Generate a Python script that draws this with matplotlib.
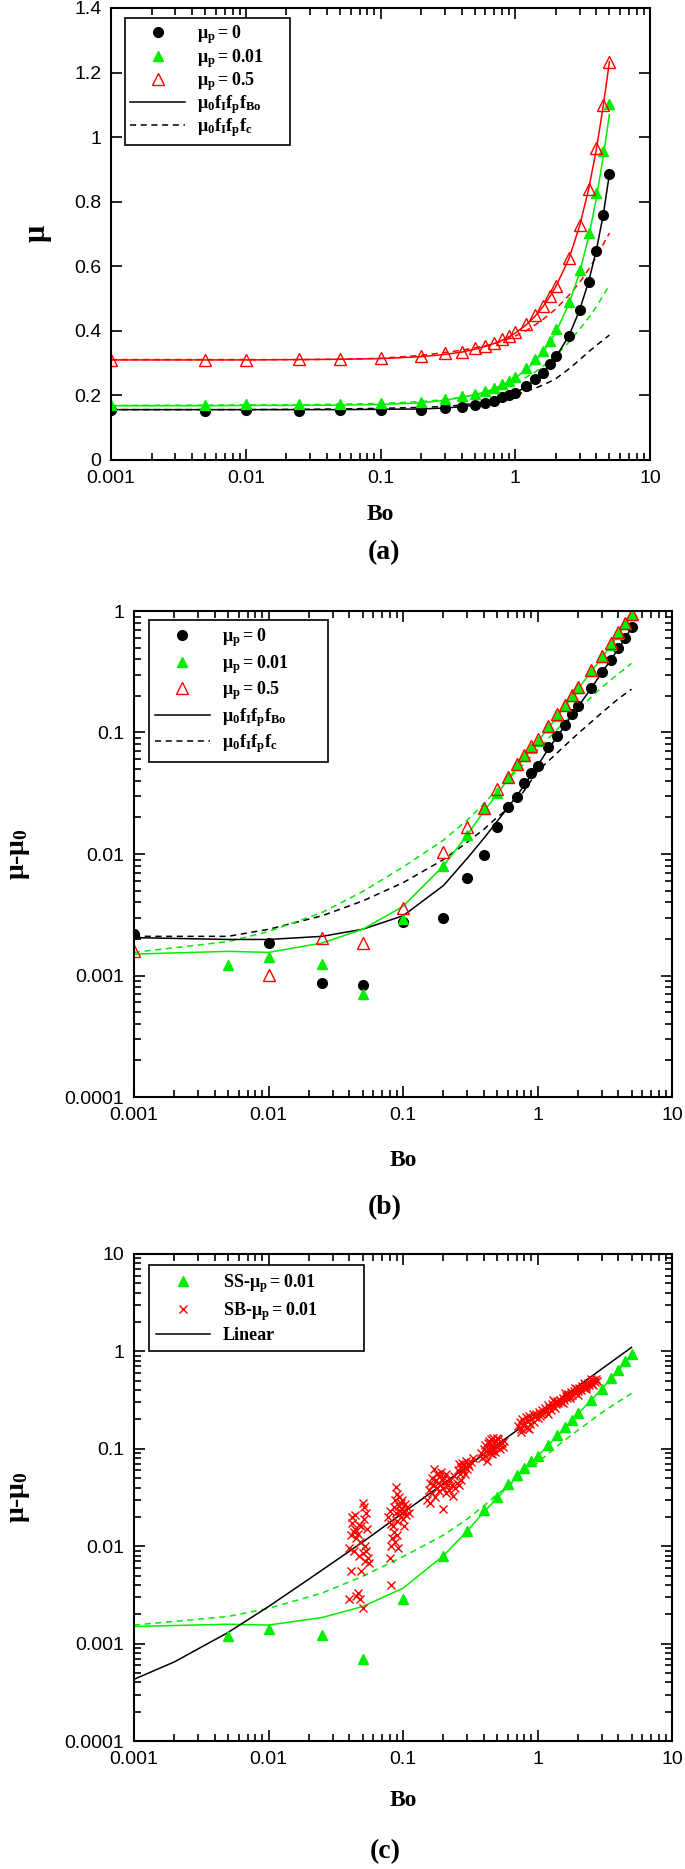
import numpy as np
import matplotlib.pyplot as plt
from matplotlib import ticker
from matplotlib.lines import Line2D

plt.rcParams['font.family'] = ['Liberation Sans', 'DejaVu Sans']
plt.rcParams['mathtext.fontset'] = 'custom'
plt.rcParams['mathtext.rm'] = 'Liberation Serif:bold'
plt.rcParams['mathtext.it'] = 'Liberation Serif:bold'
plt.rcParams['mathtext.bf'] = 'Liberation Serif:bold'
plt.rcParams['mathtext.default'] = 'rm'

# Bond number grid shared by the simulations
bo = [0.001, 0.005, 0.01, 0.025, 0.05, 0.1, 0.2, 0.3, 0.4, 0.5, 0.6, 0.7, 0.8, 0.9,
      1.0, 1.2, 1.4, 1.6, 1.8, 2.0, 2.5, 3.0, 3.5, 4.0, 4.5, 5.0]

# (a) friction coefficient
mu_p0 = [0.156, 0.153, 0.155, 0.153, 0.155, 0.156, 0.156, 0.160, 0.164, 0.171, 0.178, 0.184, 0.194,
         0.200, 0.208, 0.230, 0.250, 0.271, 0.296, 0.321, 0.385, 0.466, 0.551, 0.648, 0.759, 0.886]
mu_p001 = [0.169, 0.171, 0.172, 0.172, 0.172, 0.175, 0.180, 0.188, 0.197, 0.205, 0.213, 0.224, 0.236,
           0.244, 0.258, 0.285, 0.313, 0.338, 0.368, 0.405, 0.490, 0.589, 0.703, 0.827, 0.958, 1.104]
mu_p05 = [0.311, 0.310, 0.311, 0.312, 0.312, 0.315, 0.322, 0.330, 0.335, 0.346, 0.354, 0.363, 0.374,
          0.385, 0.396, 0.420, 0.448, 0.476, 0.509, 0.540, 0.626, 0.728, 0.838, 0.965, 1.100, 1.234]
fbo_p0 = [0.156, 0.156, 0.156, 0.156, 0.156, 0.157, 0.158, 0.161, 0.165, 0.170, 0.176, 0.183, 0.191,
          0.199, 0.207, 0.227, 0.248, 0.270, 0.294, 0.319, 0.384, 0.464, 0.552, 0.650, 0.760, 0.886]
fbo_p001 = [0.168, 0.168, 0.169, 0.169, 0.170, 0.172, 0.177, 0.185, 0.194, 0.202, 0.211, 0.221, 0.232,
            0.243, 0.254, 0.279, 0.306, 0.334, 0.364, 0.396, 0.483, 0.580, 0.690, 0.810, 0.940, 1.070]
fbo_p05 = [0.310, 0.310, 0.310, 0.311, 0.312, 0.314, 0.320, 0.327, 0.334, 0.343, 0.352, 0.361, 0.371,
           0.382, 0.393, 0.418, 0.445, 0.474, 0.505, 0.537, 0.623, 0.724, 0.838, 0.962, 1.097, 1.234]
fc_p0 = [0.156, 0.156, 0.156, 0.157, 0.158, 0.160, 0.163, 0.166, 0.170, 0.176, 0.180, 0.186, 0.191,
         0.196, 0.201, 0.212, 0.222, 0.232, 0.242, 0.252, 0.282, 0.310, 0.335, 0.355, 0.372, 0.387]
fc_p001 = [0.169, 0.170, 0.1705, 0.171, 0.173, 0.175, 0.181, 0.187, 0.194, 0.202, 0.208, 0.215, 0.222,
           0.230, 0.240, 0.256, 0.272, 0.290, 0.307, 0.323, 0.365, 0.405, 0.440, 0.475, 0.510, 0.542]
fc_p05 = [0.311, 0.311, 0.311, 0.311, 0.312, 0.315, 0.324, 0.333, 0.340, 0.347, 0.354, 0.361, 0.368,
          0.376, 0.384, 0.400, 0.418, 0.435, 0.452, 0.468, 0.510, 0.550, 0.590, 0.630, 0.668, 0.703]

# (b) mu - mu0 (nan where no point is drawn)
nan = np.nan
d_p0 = [0.0022, nan, 0.00186, 0.00086, 0.00083, 0.00277, 0.0030, 0.00634, 0.0098, 0.0166, 0.0243,
        0.0297, 0.0385, 0.0465, 0.0531, 0.076, 0.093, 0.115, 0.143, 0.165, 0.231, 0.313, 0.397,
        0.492, 0.603, 0.738]
d_p001 = [nan, 0.00121, 0.00142, 0.00124, 0.0007, 0.0029, 0.0080, 0.0142, 0.0237, 0.032, 0.0434,
          0.0538, 0.064, 0.0744, 0.085, 0.110, 0.138, 0.167, 0.198, 0.231, 0.318, 0.416, 0.527,
          0.645, 0.79, 0.935]
d_p05 = [0.00159, nan, 0.00101, 0.00204, 0.00186, 0.00357, 0.0103, 0.0166, 0.024, 0.0343, 0.0434,
         0.055, 0.065, 0.077, 0.088, 0.113, 0.141, 0.169, 0.205, 0.238, 0.324, 0.43, 0.545,
         0.667, 0.80, 0.948]
dfbo_p0 = [0.00205, 0.00198, 0.00198, 0.0021, 0.0024, 0.0031, 0.0055, 0.0092, 0.0135, 0.0185, 0.024,
           0.030, 0.037, 0.045, 0.053, 0.073, 0.092, 0.114, 0.140, 0.163, 0.23, 0.31, 0.395, 0.49,
           0.60, 0.73]
dfbo_p001 = [0.0015, 0.00158, 0.00155, 0.00185, 0.0024, 0.0037, 0.0080, 0.0143, 0.0225, 0.031, 0.041,
             0.051, 0.062, 0.073, 0.084, 0.108, 0.135, 0.164, 0.195, 0.228, 0.315, 0.41, 0.52, 0.64,
             0.78, 0.92]
bo_fc = [0.001, 0.005, 0.01, 0.025, 0.05, 0.1, 0.2, 0.3, 0.4, 0.5, 0.7, 1.0, 1.5, 2.0, 3.0, 4.0, 5.0]
dfc_p0 = [0.0021, 0.0021, 0.0024, 0.0031, 0.0041, 0.0058, 0.0090, 0.0125, 0.016, 0.020, 0.027,
          0.048, 0.073, 0.098, 0.145, 0.19, 0.227]
dfc_p001 = [0.00155, 0.0019, 0.0023, 0.0033, 0.0049, 0.0078, 0.0130, 0.019, 0.026, 0.034, 0.048,
            0.072, 0.115, 0.155, 0.235, 0.305, 0.37]

# (c) linear fit and SB scatter
bo_lin = [0.001, 0.002, 0.005, 0.01, 0.02, 0.05, 0.1, 0.2, 0.5, 1.0, 2.0, 5.0]
d_lin = [0.00043, 0.00065, 0.0013, 0.0024, 0.0046, 0.011, 0.022, 0.044, 0.11, 0.22, 0.44, 1.1]
sb_bo = [0.040, 0.041, 0.042, 0.043, 0.044, 0.045, 0.046, 0.047, 0.044, 0.042, 0.041, 0.040, 0.045,
         0.046, 0.048, 0.050, 0.049, 0.050, 0.051, 0.050, 0.053, 0.054, 0.052, 0.053, 0.055, 0.056,
         0.052, 0.047, 0.043, 0.048, 0.051, 0.049,
         0.078, 0.080, 0.082, 0.083, 0.081, 0.080, 0.082, 0.085, 0.087, 0.088, 0.089, 0.090, 0.091,
         0.092, 0.093, 0.094, 0.095, 0.096, 0.097, 0.099, 0.100, 0.102, 0.104, 0.106, 0.108, 0.110,
         0.086, 0.084, 0.090, 0.098, 0.101, 0.087,
         0.150, 0.155, 0.158, 0.160, 0.163, 0.165, 0.168, 0.170, 0.172, 0.175, 0.178, 0.180, 0.182,
         0.185, 0.188, 0.190, 0.192, 0.195, 0.198, 0.200, 0.203, 0.205, 0.208, 0.210, 0.215, 0.220,
         0.225, 0.230, 0.235, 0.240, 0.245, 0.250, 0.255, 0.260, 0.265, 0.270, 0.275, 0.280, 0.285,
         0.290, 0.295, 0.300, 0.305, 0.310, 0.320, 0.330, 0.270, 0.260,
         0.380, 0.390, 0.400, 0.405, 0.410, 0.415, 0.420, 0.425, 0.430, 0.435, 0.440, 0.445, 0.450,
         0.455, 0.460, 0.465, 0.470, 0.475, 0.480, 0.490, 0.500, 0.510, 0.520, 0.530, 0.540, 0.550,
         0.560, 0.440, 0.460, 0.500,
         0.72, 0.74, 0.75, 0.77, 0.78, 0.80, 0.82, 0.83, 0.85, 0.87, 0.88, 0.90, 0.92, 0.94, 0.96,
         0.98, 1.00, 1.02, 1.04, 1.06, 1.08, 0.76, 0.86,
         1.10, 1.13, 1.16, 1.19, 1.22, 1.25, 1.28, 1.31, 1.34, 1.37, 1.40, 1.43, 1.46, 1.50, 1.54,
         1.58, 1.62, 1.66, 1.70, 1.74, 1.78, 1.82, 1.86, 1.90, 1.95, 2.00, 2.05, 2.10, 2.15, 2.20,
         2.25, 2.30, 2.36, 2.42, 2.48, 2.54, 2.60, 2.66, 2.72, 2.78, 1.20, 1.35, 1.55, 1.75, 2.00,
         2.30, 2.60, 1.30, 1.60, 1.90, 2.20, 2.50]
sb_d = [0.0095, 0.0130, 0.0200, 0.0140, 0.0150, 0.0120, 0.0135, 0.0165, 0.0210, 0.0175, 0.0055, 0.0029,
        0.0031, 0.0033, 0.0029, 0.0023, 0.0055, 0.0085, 0.0250, 0.0280, 0.0220, 0.0150, 0.0100, 0.0090,
        0.0075, 0.0068, 0.0070, 0.0080, 0.0090, 0.0110, 0.0190, 0.0160,
        0.0200, 0.0230, 0.0170, 0.0120, 0.0100, 0.0075, 0.0040, 0.0250, 0.0300, 0.0410, 0.0220, 0.0180,
        0.0130, 0.0095, 0.0260, 0.0320, 0.0230, 0.0200, 0.0280, 0.0240, 0.0190, 0.0230, 0.0270, 0.0210,
        0.0250, 0.0220, 0.0140, 0.0160, 0.0340, 0.0300, 0.0160, 0.0110,
        0.0300, 0.0380, 0.0450, 0.0280, 0.0500, 0.0350, 0.0420, 0.0620, 0.0320, 0.0480, 0.0400, 0.0550,
        0.0450, 0.0370, 0.0520, 0.0430, 0.0580, 0.0480, 0.0240, 0.0400, 0.0500, 0.0450, 0.0350, 0.0550,
        0.0420, 0.0380, 0.0480, 0.0430, 0.0330, 0.0520, 0.0400, 0.0450, 0.0600, 0.0700, 0.0550, 0.0650,
        0.0720, 0.0600, 0.0680, 0.0550, 0.0750, 0.0620, 0.0700, 0.0660, 0.0730, 0.0800, 0.0480, 0.0420,
        0.0900, 0.0800, 0.1000, 0.0850, 0.1100, 0.0950, 0.0750, 0.1150, 0.1000, 0.1200, 0.0900, 0.1050,
        0.1250, 0.0950, 0.1100, 0.1300, 0.1000, 0.1150, 0.0920, 0.1200, 0.1050, 0.1250, 0.1100, 0.1000,
        0.1150, 0.1050, 0.1200, 0.1150, 0.0880, 0.1300,
        0.170, 0.190, 0.160, 0.200, 0.175, 0.185, 0.210, 0.165, 0.195, 0.215, 0.180, 0.200, 0.225, 0.190,
        0.210, 0.230, 0.205, 0.240, 0.215, 0.230, 0.250, 0.150, 0.160,
        0.235, 0.260, 0.245, 0.280, 0.265, 0.250, 0.290, 0.275, 0.300, 0.285, 0.310, 0.295, 0.320, 0.305,
        0.335, 0.320, 0.350, 0.335, 0.365, 0.345, 0.380, 0.360, 0.395, 0.375, 0.410, 0.390, 0.425, 0.405,
        0.440, 0.420, 0.455, 0.435, 0.470, 0.450, 0.490, 0.465, 0.505, 0.480, 0.520, 0.495, 0.230, 0.265,
        0.295, 0.330, 0.360, 0.410, 0.455, 0.315, 0.370, 0.425, 0.475, 0.525]

GREEN = '#00ee00'
RED = '#ff0000'
W, H = 685, 1869


def box(left, top, right, bottom):
    return [left / W, 1 - bottom / H, (right - left) / W, (bottom - top) / H]


def style(ax, logy):
    ax.set_xscale('log')
    ax.set_xlim(1e-3, 10)
    fmt = ticker.FuncFormatter(lambda v, p: f'{v:g}')
    ax.xaxis.set_major_formatter(fmt)
    ax.xaxis.set_minor_formatter(ticker.NullFormatter())
    if logy:
        ax.set_yscale('log')
        ax.yaxis.set_major_formatter(fmt)
        ax.yaxis.set_minor_formatter(ticker.NullFormatter())
    ax.tick_params(which='both', direction='in', top=True, right=True, width=1.2, labelsize=14)
    ax.tick_params(which='major', length=8, pad=7)
    ax.tick_params(which='minor', length=5)
    for s in ax.spines.values():
        s.set_linewidth(1.5)


def legend(ax, handles, labels, x0, top, width, spacing, pad):
    lg = ax.legend(handles, labels, loc='upper left', bbox_to_anchor=(x0, top, width, 0),
                   mode='expand', borderaxespad=0, fancybox=False, framealpha=1,
                   edgecolor='black', handlelength=3.0, handletextpad=0.7,
                   labelspacing=spacing, borderpad=pad,
                   prop=dict(family='Liberation Serif', weight='bold', size=13))
    lg.get_frame().set_linewidth(1.2)


fig = plt.figure(figsize=(W / 100, H / 100), dpi=100)
lw = 1.1
dash = (0, (4, 3))
circ = dict(marker='o', ms=7, color='black', ls='none')
gtri = dict(marker='^', ms=7, color=GREEN, ls='none')
rtri = dict(marker='^', ms=8, mfc='none', mec=RED, mew=1.0, ls='none')
mu_labels = [r'$\mu_p = 0$', r'$\mu_p = 0.01$', r'$\mu_p = 0.5$',
             r'$\mu_0f_If_pf_{Bo}$', r'$\mu_0f_If_pf_c$']
mu_handles = [Line2D([], [], **circ), Line2D([], [], **gtri), Line2D([], [], **rtri),
              Line2D([], [], color='black', lw=lw), Line2D([], [], color='black', lw=lw, ls=dash)]

# ---- (a)
ax = fig.add_axes(box(111, 8, 650, 460))
style(ax, False)
ax.set_ylim(0, 1.4)
ax.yaxis.set_major_locator(ticker.MultipleLocator(0.2))
ax.yaxis.set_major_formatter(ticker.FuncFormatter(lambda v, p: f'{v:g}'))
ax.plot(bo, fc_p0, color='black', lw=lw, ls=dash)
ax.plot(bo, fc_p001, color=GREEN, lw=lw, ls=dash)
ax.plot(bo, fc_p05, color=RED, lw=lw, ls=dash)
ax.plot(bo, fbo_p0, color='black', lw=lw)
ax.plot(bo, fbo_p001, color=GREEN, lw=lw)
ax.plot(bo, fbo_p05, color=RED, lw=lw)
ax.plot(bo, mu_p0, **circ)
ax.plot(bo, mu_p001, **gtri)
ax.plot(bo, mu_p05, **rtri)
legend(ax, mu_handles, mu_labels, 0.026, 0.978, 0.306, 0.02, 0.3)

# ---- (b)
ax = fig.add_axes(box(134, 611, 672, 1097))
style(ax, True)
ax.set_ylim(1e-4, 1)
ax.plot(bo_fc, dfc_p0, color='black', lw=lw, ls=dash)
ax.plot(bo_fc, dfc_p001, color=GREEN, lw=lw, ls=dash)
ax.plot(bo, dfbo_p0, color='black', lw=lw)
ax.plot(bo, dfbo_p001, color=GREEN, lw=lw)
ax.plot(bo, d_p0, **circ)
ax.plot(bo, d_p001, **gtri)
ax.plot(bo, d_p05, **rtri)
legend(ax, mu_handles, mu_labels, 0.028, 0.981, 0.333, 0.2, 0.35)

# ---- (c)
ax = fig.add_axes(box(134, 1254, 672, 1741))
style(ax, True)
ax.set_ylim(1e-4, 10)
ax.plot(bo_fc, dfc_p001, color=GREEN, lw=lw, ls=dash)
ax.plot(bo, dfbo_p001, color=GREEN, lw=lw)
ax.plot(bo_lin, d_lin, color='black', lw=lw)
ax.plot(sb_bo, sb_d, marker='x', ms=6, mew=1.0, color=RED, ls='none')
ax.plot(bo, d_p001, **gtri)
legend(ax, [Line2D([], [], **gtri),
            Line2D([], [], marker='x', ms=6, mew=1.0, color=RED, ls='none'),
            Line2D([], [], color='black', lw=lw)],
       [r'SS-$\mu_p = 0.01$', r'SB-$\mu_p = 0.01$', 'Linear'], 0.028, 0.977, 0.40, 0.25, 0.4)

# axis labels and panel tags
lab = dict(family='Liberation Serif', weight='bold', ha='center', va='center')
fig.text(380 / W, 1 - 514 / H, 'Bo', size=17, **lab)
fig.text(403 / W, 1 - 1160 / H, 'Bo', size=17, **lab)
fig.text(403 / W, 1 - 1800 / H, 'Bo', size=17, **lab)
fig.text(384 / W, 1 - 553 / H, '(a)', size=20, **lab)
fig.text(385 / W, 1 - 1208 / H, '(b)', size=20, **lab)
fig.text(385 / W, 1 - 1852 / H, '(c)', size=20, **lab)
fig.text(39 / W, 1 - 234 / H, r'$\mu$', size=22, rotation=90, **lab)
fig.text(20 / W, 1 - 854 / H, r'$\mu$-$\mu_0$', size=20, rotation=90, **lab)
fig.text(20 / W, 1 - 1497 / H, r'$\mu$-$\mu_0$', size=20, rotation=90, **lab)

fig.savefig('out.png', dpi=100)
